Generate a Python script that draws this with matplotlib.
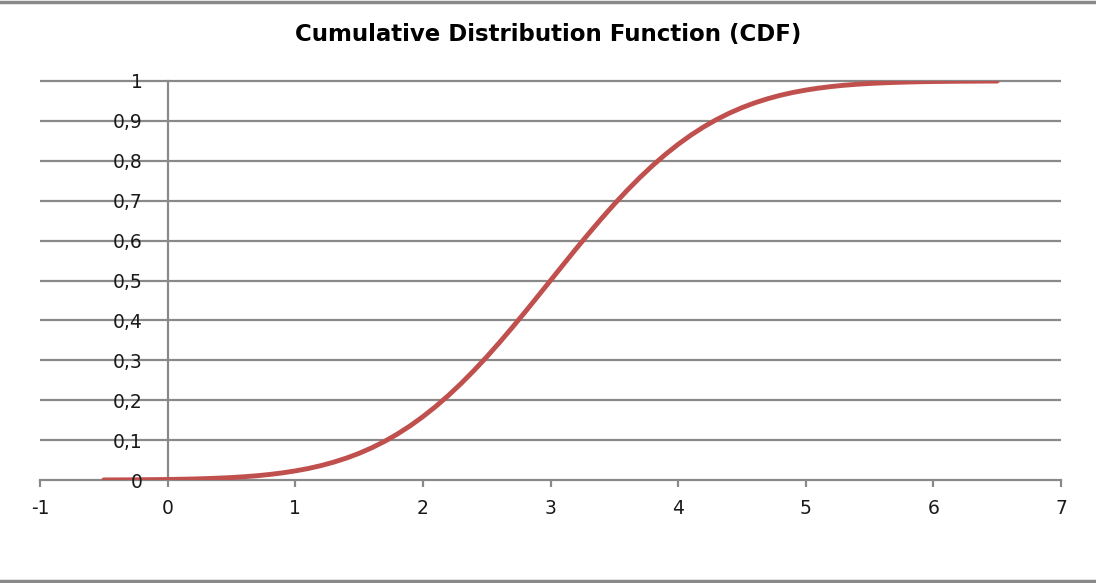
import matplotlib.pyplot as plt
from matplotlib.lines import Line2D

plt.rcParams['axes.unicode_minus'] = False

x_vals = [-0.5, -0.4, -0.3, -0.2, -0.1, 0.0, 0.1, 0.2, 0.3, 0.4,
          0.5, 0.6, 0.7, 0.8, 0.9, 1.0, 1.1, 1.2, 1.3, 1.4,
          1.5, 1.6, 1.7, 1.8, 1.9, 2.0, 2.1, 2.2, 2.3, 2.4,
          2.5, 2.6, 2.7, 2.8, 2.9, 3.0, 3.1, 3.2, 3.3, 3.4,
          3.5, 3.6, 3.7, 3.8, 3.9, 4.0, 4.1, 4.2, 4.3, 4.4,
          4.5, 4.6, 4.7, 4.8, 4.9, 5.0, 5.1, 5.2, 5.3, 5.4,
          5.5, 5.6, 5.7, 5.8, 5.9, 6.0, 6.1, 6.2, 6.3, 6.4, 6.5]
cdf_vals = [0.0002, 0.0003, 0.0005, 0.0007, 0.0010, 0.0013, 0.0019, 0.0026, 0.0035, 0.0047,
            0.0062, 0.0082, 0.0107, 0.0139, 0.0179, 0.0228, 0.0287, 0.0359, 0.0446, 0.0548,
            0.0668, 0.0808, 0.0968, 0.1151, 0.1357, 0.1587, 0.1841, 0.2119, 0.2420, 0.2743,
            0.3085, 0.3446, 0.3821, 0.4207, 0.4602, 0.5000, 0.5398, 0.5793, 0.6179, 0.6554,
            0.6915, 0.7257, 0.7580, 0.7881, 0.8159, 0.8413, 0.8643, 0.8849, 0.9032, 0.9192,
            0.9332, 0.9452, 0.9554, 0.9641, 0.9713, 0.9772, 0.9821, 0.9861, 0.9893, 0.9918,
            0.9938, 0.9953, 0.9965, 0.9974, 0.9981, 0.9987, 0.9990, 0.9993, 0.9995, 0.9997, 0.9998]
x_ticks = [-1, 0, 1, 2, 3, 4, 5, 6, 7]
y_ticks = [0, 0.1, 0.2, 0.3, 0.4, 0.5, 0.6, 0.7, 0.8, 0.9, 1]
y_labels = ['0', '0,1', '0,2', '0,3', '0,4', '0,5', '0,6', '0,7', '0,8', '0,9', '1']

GRAY = '#898989'
RED = '#C0504D'

fig = plt.figure(figsize=(10.96, 5.83), dpi=100)
ax = fig.add_axes([40 / 1096, 1 - 480 / 583, 1021 / 1096, 399 / 583])

ax.set_xlim(-1, 7)
ax.set_ylim(0, 1)

# horizontal gridlines, under the curve
ax.hlines(y_ticks[1:], x_ticks[0], x_ticks[-1], color=GRAY, lw=1.6,
          zorder=1, clip_on=False)

ax.plot(x_vals, cdf_vals, color=RED, lw=3.5, solid_capstyle='round', zorder=2)

ax.set_yticks(y_ticks)
ax.set_yticklabels(y_labels)
ax.set_xticks(x_ticks)
ax.xaxis.set_zorder(2.5)
ax.yaxis.set_zorder(2.5)

# y axis sits at x = 0, labels to the left of it
ax.spines['left'].set_position(('data', 0))
ax.spines['left'].set_color(GRAY)
ax.spines['left'].set_linewidth(1.6)
ax.spines['left'].set_zorder(1.5)
ax.spines['top'].set_visible(False)
ax.spines['right'].set_visible(False)
ax.spines['bottom'].set_color(GRAY)
ax.spines['bottom'].set_linewidth(1.6)
ax.spines['bottom'].set_zorder(1.5)
ax.tick_params(axis='y', length=0, pad=18, labelsize=13.5, labelcolor='#1a1a1a')
ax.tick_params(axis='x', length=5, width=1.6, color=GRAY, pad=9,
               labelsize=13.5, labelcolor='#1a1a1a')

fig.text(0.5, 1 - 35 / 583, 'Cumulative Distribution Function (CDF)',
         ha='center', va='center', fontsize=16.5, fontweight='bold',
         family='DejaVu Sans')

# frame lines of the original chart area
fig.add_artist(Line2D([0, 1], [1 - 1.5 / 583, 1 - 1.5 / 583], color=GRAY, lw=2.5))
fig.add_artist(Line2D([0, 1], [1 - 581 / 583, 1 - 581 / 583], color=GRAY, lw=2.5))

fig.savefig('out.png', dpi=100)
